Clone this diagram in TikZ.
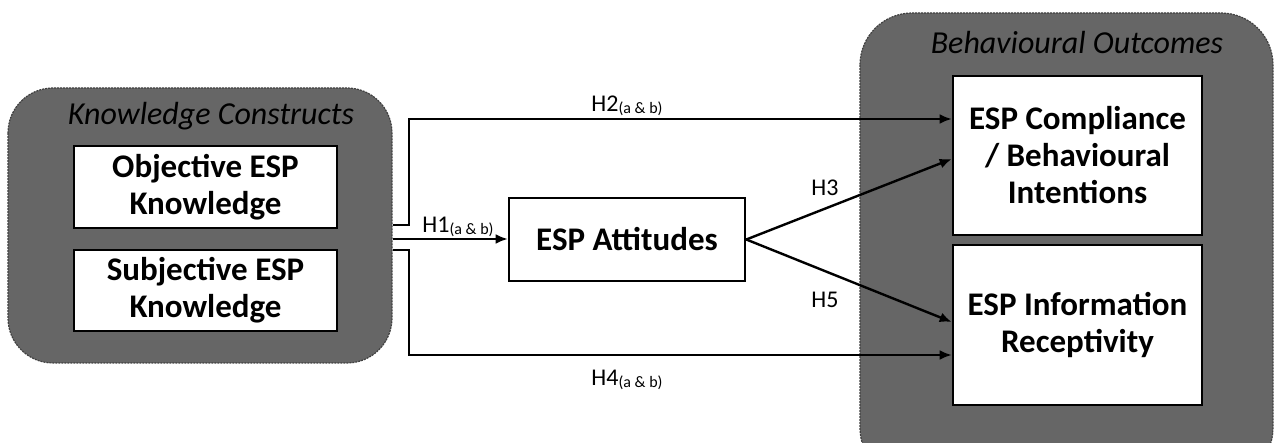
\documentclass[tikz,border=0pt]{standalone}
\usepackage{fontspec}
\setmainfont{Carlito}
\usetikzlibrary{arrows.meta}
\begin{document}
\begin{tikzpicture}[x=1pt,y=-1pt,
  grp/.style={fill=grpgray,draw=black!75,line width=1.2pt,dash pattern=on 2pt off 1pt},
  box/.style={draw=black,fill=white,line width=2.6pt,align=center,inner sep=0pt,
    font=\fontsize{33}{37}\selectfont\bfseries},
  ttl/.style={font=\fontsize{32}{36}\selectfont\itshape,inner sep=0pt},
  conn/.style={line width=2.4pt,-{Latex[length=12pt,width=10pt]}},
  lbl/.style={inner sep=0pt,font=\fontsize{24}{28}\selectfont}]
\definecolor{grpgray}{HTML}{666666}
\useasboundingbox (0,0) rectangle (1274,443);
\fill[white] (0,0) rectangle (1274,443);
% groups
\draw[grp,rounded corners=45pt] (8,88) rectangle (392,363);
\draw[grp,rounded corners=52pt] (860,13) rectangle (1273,480);
\node[ttl] (kt) at (211,116) {Knowledge Constructs};
\node[ttl] (bt) at (1077,43) {Behavioural Outcomes};
% boxes
\node[box,minimum width=263pt,minimum height=82pt] (obj) at (205.5,187) {Objective ESP\\Knowledge};
\node[box,minimum width=263pt,minimum height=81pt] (subj) at (205.5,290.5) {Subjective ESP\\Knowledge};
\node[box,minimum width=236pt,minimum height=83pt] (att) at (627,239.5) {ESP Attitudes};
\node[box,minimum width=249pt,minimum height=159pt] (comp) at (1077.5,155.5) {ESP Compliance\\/ Behavioural\\Intentions};
\node[box,minimum width=249pt,minimum height=160pt] (info) at (1077.5,325) {ESP Information\\Receptivity};
% connectors
\coordinate (h2s) at (393,225);
\coordinate (h1s) at (393,239);
\coordinate (h4s) at (393,250);
\draw[conn] (h2s) -- (409,225) |- (comp.west |- 0,119);
\draw[conn] (h1s) -- (att.west |- h1s);
\draw[conn] (h4s) -- (409,250) |- (info.west |- 0,355);
\draw[conn] (att.east) -- (comp.west |- 0,159);
\draw[conn] (att.east) -- (info.west |- 0,322);
% labels
\node[lbl] (l2) at (627,106) {H2\raisebox{-2pt}{\fontsize{16}{18}\selectfont(a \& b)}};
\node[lbl] (l1) at (458,227) {H1\raisebox{-2pt}{\fontsize{16}{18}\selectfont(a \& b)}};
\node[lbl] (l4) at (627,380) {H4\raisebox{-2pt}{\fontsize{16}{18}\selectfont(a \& b)}};
\node[lbl] (l3) at (825,188) {H3};
\node[lbl] (l5) at (825,300) {H5};
\end{tikzpicture}
\end{document}
